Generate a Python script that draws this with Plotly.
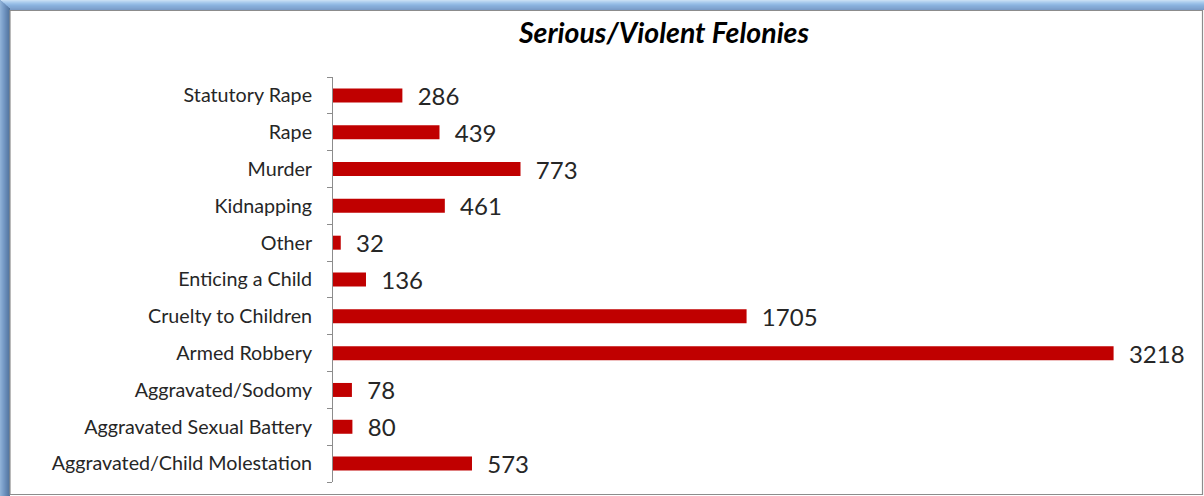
import plotly.graph_objects as go

categories = ["Aggravated/Child Molestation", "Aggravated Sexual Battery", "Aggravated/Sodomy",
              "Armed Robbery", "Cruelty to Children", "Enticing a Child", "Other",
              "Kidnapping", "Murder", "Rape", "Statutory Rape"]
values = [573, 80, 78, 3218, 1705, 136, 32, 461, 773, 439, 286]
title_text = "Serious/Violent Felonies"

W, H = 1204, 496
L, R, T, B = 333, 1182, 77, 482

def px(x):
    return (x - L) / (R - L)

def py(y):
    return (B - y) / (B - T)

fig = go.Figure(go.Bar(
    y=categories, x=values, orientation="h",
    marker=dict(color="#C00000", line=dict(width=0)),
    text=["\u00a0\u00a0" + str(v) for v in values],
    textposition="outside", cliponaxis=False, constraintext="none",
    textfont=dict(family="Lato", size=24, color="#262626"),
    hoverinfo="skip",
))

shapes = []
# top blue band (gradient approximation)
top_cols = ["#c6ddf3", "#b6d3f0", "#a8caec", "#9cc1e8", "#92b9e3", "#8ab2de", "#86acd8", "#83a8d4", "#7fa2ce", "#7a9cc8"]
for i, c in enumerate(top_cols):
    shapes.append(dict(type="rect", xref="paper", yref="paper", x0=px(0), x1=px(W), y0=py(i), y1=py(i + 1),
                       fillcolor=c, line=dict(width=0), layer="below"))
left_cols = ["#8eb0d6", "#86a9d1", "#7ea2cc", "#779bc6", "#7094c0", "#698db9", "#6386b2", "#5d80ab", "#577aa4", "#52749e"]
for i, c in enumerate(left_cols):
    shapes.append(dict(type="rect", xref="paper", yref="paper", x0=px(i), x1=px(i + 1), y0=py(i * 0.9), y1=py(H),
                       fillcolor=c, line=dict(width=0), layer="below"))
# gray border of the chart area
shapes.append(dict(type="rect", xref="paper", yref="paper", x0=px(10), x1=px(1202.5), y0=py(10.5), y1=py(494.5),
                   fillcolor="rgba(0,0,0,0)", line=dict(color="#8c8c8c", width=1.2)))

fig.update_layout(
    width=W, height=H,
    margin=dict(l=L, r=W - R, t=T, b=H - B),
    paper_bgcolor="white", plot_bgcolor="white",
    bargap=0.62,
    showlegend=False,
    shapes=shapes,
    title=dict(text="<b><i>" + title_text + "</i></b>", x=px(664), xref="paper", xanchor="center",
               y=1 - 33 / H, yanchor="middle",
               font=dict(family="Lato", size=28.5, color="black")),
    xaxis=dict(range=[0, 3500], visible=False, fixedrange=True),
    yaxis=dict(categoryorder="array", categoryarray=categories,
               showline=True, linecolor="#8c8c8c", linewidth=1,
               ticks="outside", tickson="boundaries", ticklen=5, tickcolor="#8c8c8c",
               ticklabelstandoff=16,
               tickfont=dict(family="Lato", size=19.7, color="#262626"),
               showgrid=False, zeroline=False, fixedrange=True),
)

fig.write_html("out.html", post_script="document.body.style.margin='0px';",
               config={"displayModeBar": False})
